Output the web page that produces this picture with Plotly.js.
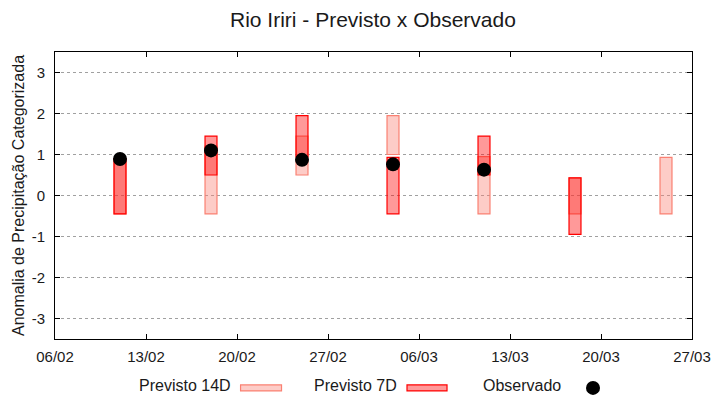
<!DOCTYPE html>
<html>
<head>
<meta charset="utf-8">
<script src="https://cdn.plot.ly/plotly-3.0.1.min.js"></script>
<style>html,body{margin:0;padding:0;background:#fff;}#chart{width:720px;height:400px;}</style>
</head>
<body>
<div id="chart"></div>
<script>
// Data
var dates   = ['2023-02-11', '2023-02-18', '2023-02-25', '2023-03-04', '2023-03-11', '2023-03-18', '2023-03-25'];
var p14Low  = [-0.45, -0.45, 0.50, 1.00, -0.45, -0.45, -0.45];
var p14High = [ 0.90,  1.20, 1.45, 1.95,  0.95,  0.43,  0.93];
var p7Low   = [-0.45,  0.50, 0.95, -0.45, 0.50, -0.95, null];
var p7High  = [ 0.90,  1.45, 1.95, 0.93,  1.45,  0.43, null];
var obsDates  = ['2023-02-11', '2023-02-18', '2023-02-25', '2023-03-04', '2023-03-11'];
var obsValues = [0.89, 1.10, 0.87, 0.76, 0.63];
var yTicks = [-3, -2, -1, 0, 1, 2, 3];

var DAY = 86400000;
var barWidth = 0.92 * DAY;
function span(lo, hi) { return lo.map(function (v, i) { return (v === null || hi[i] === null) ? null : hi[i] - v; }); }

var font = 'Liberation Sans, Arial, sans-serif';

var traces = [
  {
    type: 'bar', name: 'Previsto 14D', x: dates, base: p14Low, y: span(p14Low, p14High),
    width: barWidth, showlegend: false, hoverinfo: 'skip',
    marker: { color: 'rgba(250,128,114,0.4)', line: { color: 'rgb(250,128,114)', width: 1.2 } }
  },
  {
    type: 'bar', name: 'Previsto 7D', x: dates, base: p7Low, y: span(p7Low, p7High),
    width: barWidth, showlegend: false, hoverinfo: 'skip',
    marker: { color: 'rgba(255,0,0,0.4)', line: { color: 'rgb(255,0,0)', width: 1.2 } }
  },
  {
    type: 'scatter', mode: 'markers', name: 'Observado', x: obsDates, y: obsValues,
    showlegend: false, marker: { color: '#000', size: 14, symbol: 'circle' }
  }
];

// legend geometry (paper coords)
var legY = -0.163;
var layout = {
  width: 720, height: 400,
  margin: { l: 55, r: 28, t: 51.5, b: 61, pad: 0 },
  paper_bgcolor: '#fff', plot_bgcolor: '#fff',
  barmode: 'overlay',
  font: { family: font, size: 15, color: '#1a1a1a' },
  title: { text: 'Rio Iriri - Previsto x Observado', x: 0.518, xanchor: 'center', y: 0.95, yanchor: 'middle', xref: 'container', yref: 'container', font: { family: font, size: 21, color: '#1a1a1a' } },
  xaxis: {
    type: 'date', range: ['2023-02-06', '2023-03-27'], tick0: '2023-02-06', dtick: 7 * DAY,
    tickformat: '%d/%m', ticks: 'inside', ticklen: 5, tickcolor: '#000', tickwidth: 1,
    showline: true, linecolor: '#000', linewidth: 1, mirror: 'ticks',
    showgrid: false, zeroline: false, ticklabelstandoff: 4,
    tickfont: { family: font, size: 15, color: '#1a1a1a' }
  },
  yaxis: {
    range: [-3.5, 3.5], tickvals: yTicks, ticktext: yTicks.map(String),
    ticks: 'inside', ticklen: 5, tickcolor: '#000', tickwidth: 1,
    showline: true, linecolor: '#000', linewidth: 1, mirror: 'ticks',
    showgrid: true, gridcolor: '#a0a0a0', griddash: 'dot', gridwidth: 1,
    zeroline: false, ticklabelstandoff: 6,
    tickfont: { family: font, size: 15, color: '#1a1a1a' },
    title: { text: 'Anomalia de Precipitação Categorizada', standoff: 3, font: { family: font, size: 16, color: '#1a1a1a' } }
  },
  showlegend: false,
  annotations: [
    { text: 'Previsto 14D', xref: 'paper', yref: 'paper', x: 0.2794, y: legY, xanchor: 'right', yanchor: 'middle', showarrow: false, font: { family: font, size: 16, color: '#1a1a1a' } },
    { text: 'Previsto 7D', xref: 'paper', yref: 'paper', x: 0.540, y: legY, xanchor: 'right', yanchor: 'middle', showarrow: false, font: { family: font, size: 16, color: '#1a1a1a' } },
    { text: 'Observado', xref: 'paper', yref: 'paper', x: 0.798, y: legY, xanchor: 'right', yanchor: 'middle', showarrow: false, font: { family: font, size: 16, color: '#1a1a1a' } }
  ],
  shapes: [
    { type: 'rect', xref: 'paper', yref: 'paper', x0: 0.2913, x1: 0.3556, y0: -0.1809, y1: -0.160, fillcolor: 'rgba(250,128,114,0.4)', line: { color: 'rgb(250,128,114)', width: 1.2 } },
    { type: 'rect', xref: 'paper', yref: 'paper', x0: 0.5526, x1: 0.6154, y0: -0.1809, y1: -0.160, fillcolor: 'rgba(255,0,0,0.4)', line: { color: 'rgb(255,0,0)', width: 1.2 } },
    { type: 'circle', xref: 'paper', yref: 'paper', x0: 0.8336, x1: 0.8556, y0: -0.1948, y1: -0.1461, fillcolor: '#000', line: { color: '#000', width: 0 } }
  ]
};

Plotly.newPlot('chart', traces, layout, { displayModeBar: false, staticPlot: true });
</script>
</body>
</html>
